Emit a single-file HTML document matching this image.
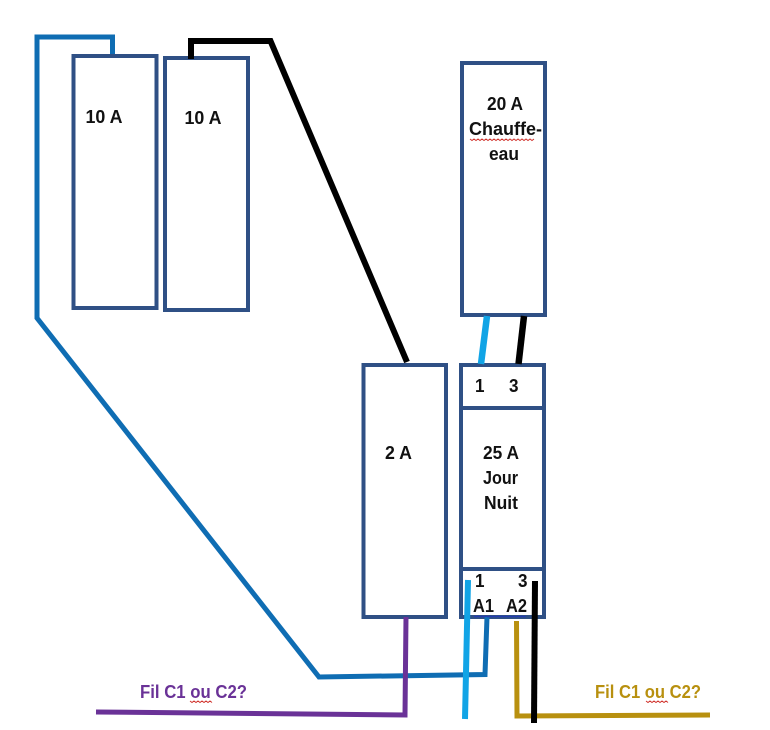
<!DOCTYPE html>
<html><head><meta charset="utf-8"><style>
html,body{margin:0;padding:0;background:#fff}
svg{display:block}
text{font-family:"Liberation Sans",sans-serif;font-weight:bold;font-size:18.5px;fill:#111}
</style></head><body>
<svg width="770" height="730" viewBox="0 0 770 730" xmlns="http://www.w3.org/2000/svg">
<rect width="770" height="730" fill="#fff"/>
<!-- boxes -->
<g fill="none" stroke="#2f5085" stroke-width="4">
<rect x="73.500" y="56" width="83" height="252"/>
<rect x="165" y="58" width="83" height="252"/>
<rect x="462" y="63" width="83" height="252"/>
<rect x="363.500" y="365" width="82.500" height="252"/>
<rect x="461" y="365" width="83" height="252"/>
<path d="M461 408H544M461 569H544"/>
</g>
<!-- wires -->
<g fill="none" stroke-linejoin="miter">
<path d="M112.500 54V37H37V318L319 677L485 674.500L487 617" stroke="#0f6db3" stroke-width="5"/>
<path d="M191 59V41H270.500L407 362" stroke="#000" stroke-width="6"/>
<path d="M406 617L405 715L96 712" stroke="#6a3297" stroke-width="5"/>
<path d="M516.500 621L517 716L710 715" stroke="#b8900f" stroke-width="5"/>
<path d="M487 316L481 364" stroke="#11a4e6" stroke-width="6.500"/>
<path d="M524 316L518.500 364" stroke="#000" stroke-width="6.500"/>
<path d="M468 580L465 719" stroke="#11a4e6" stroke-width="6"/>
<path d="M535 581L534 723" stroke="#000" stroke-width="6"/>
</g>
<!-- labels -->
<text x="85.500" y="123" textLength="37" lengthAdjust="spacingAndGlyphs">10 A</text>
<text x="184.500" y="124" textLength="37" lengthAdjust="spacingAndGlyphs">10 A</text>
<text x="487" y="110" textLength="36" lengthAdjust="spacingAndGlyphs">20 A</text>
<text x="469" y="135" textLength="73" lengthAdjust="spacingAndGlyphs">Chauffe-</text>
<text x="489" y="160" textLength="30" lengthAdjust="spacingAndGlyphs">eau</text>
<text x="385" y="459" textLength="27" lengthAdjust="spacingAndGlyphs">2 A</text>
<text x="475" y="392" textLength="9.500" lengthAdjust="spacingAndGlyphs">1</text>
<text x="509" y="392" textLength="9.500" lengthAdjust="spacingAndGlyphs">3</text>
<text x="483" y="459" textLength="36" lengthAdjust="spacingAndGlyphs">25 A</text>
<text x="483" y="484" textLength="35" lengthAdjust="spacingAndGlyphs">Jour</text>
<text x="484" y="509" textLength="34" lengthAdjust="spacingAndGlyphs">Nuit</text>
<text x="475" y="587" textLength="9.500" lengthAdjust="spacingAndGlyphs">1</text>
<text x="518" y="587" textLength="9.500" lengthAdjust="spacingAndGlyphs">3</text>
<text x="473" y="612" textLength="21" lengthAdjust="spacingAndGlyphs">A1</text>
<text x="506" y="612" textLength="21" lengthAdjust="spacingAndGlyphs">A2</text>
<text x="140" y="698" textLength="107" lengthAdjust="spacingAndGlyphs" style="fill:#6a3297">Fil C1 ou C2?</text>
<text x="595" y="698" textLength="106" lengthAdjust="spacingAndGlyphs" style="fill:#b8900f">Fil C1 ou C2?</text>
<!-- squiggles -->
<g fill="none" stroke-width="1">
<path stroke="#d0302a" d="M470 139l2 1.500 2-1.500 2 1.500 2-1.500 2 1.500 2-1.500 2 1.500 2-1.500 2 1.500 2-1.500 2 1.500 2-1.500 2 1.500 2-1.500 2 1.500 2-1.500 2 1.500 2-1.500 2 1.500 2-1.500 2 1.500 2-1.500 2 1.500 2-1.500 2 1.500 2-1.500 2 1.500 2-1.500 2 1.500 2-1.500 2 1.500 2-1.500"/>
<path stroke="#d0302a" d="M190 701l2 1.500 2-1.500 2 1.500 2-1.500 2 1.500 2-1.500 2 1.500 2-1.500 2 1.500 2-1.500 2 1.500"/>
<path stroke="#d0302a" d="M646 701l2 1.500 2-1.500 2 1.500 2-1.500 2 1.500 2-1.500 2 1.500 2-1.500 2 1.500 2-1.500 2 1.500"/>
<path stroke="#2238b8" d="M474 616l2 1 2-1 2 1 2-1 2 1 2-1 2 1 2-1 2 1 2-1 2 1 2-1 2 1 2-1 2 1 2-1 2 1 2-1 2 1 2-1 2 1 2-1 2 1 2-1 2 1 2-1"/>
</g>
</svg>
</body></html>
